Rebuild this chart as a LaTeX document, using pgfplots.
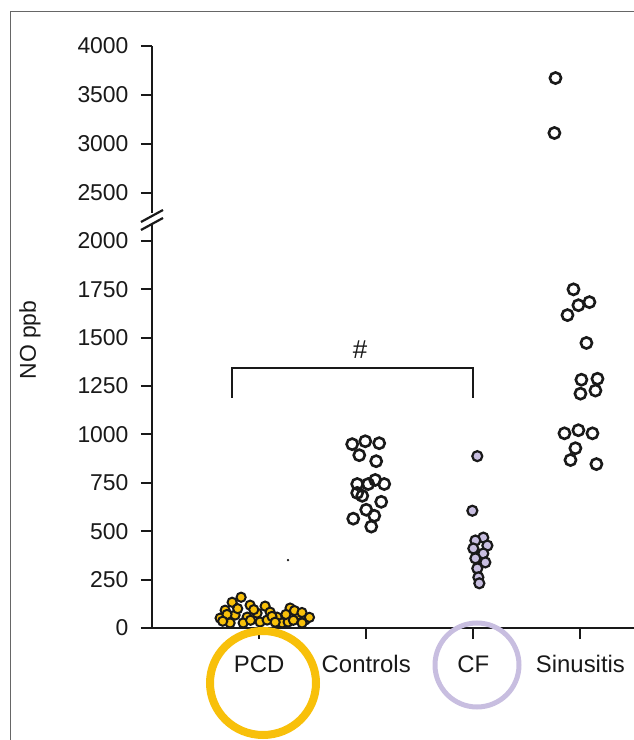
\documentclass[border=0pt]{standalone}
\usepackage{pgfplots}
\pgfplotsset{compat=1.18}
\usepackage{fontspec}
\setmainfont{Liberation Sans}
\definecolor{gold}{RGB}{248,192,10}
\definecolor{lav}{RGB}{200,190,224}
\definecolor{ink}{RGB}{25,25,25}

\pgfplotsset{
  nofig/.style={
    scale only axis, width=482bp, xmin=0, xmax=4.5,
    axis y line*=left, axis line style={-, line width=2.6bp, ink},
    tick align=outside, major tick length=11bp,
    tick style={line width=2bp, ink},
    yticklabel style={font=\fontsize{23}{23}\selectfont, text=ink, xshift=-9bp},
    /pgf/number format/assume math mode=true,
    /pgf/number format/1000 sep={},
    scaled y ticks=false, clip=false,
  },
  open/.style={only marks, mark=o, mark size=5.6bp, line width=2.6bp, ink},
}

\begin{document}
\begin{tikzpicture}
\useasboundingbox (0,0) rectangle (634bp,740bp);
\draw[gray!80!black, line width=1bp] (10bp,0) -- (10bp,728bp) -- (634bp,728bp);

% lower part 0 - 2000
\begin{axis}[nofig, at={(152bp,112bp)}, anchor=south west,
    height=402.5bp, ymin=0, ymax=2080,
    axis x line*=bottom,
    ytick={0,250,...,2000},
    xtick={1,2,3,4}, xticklabels={PCD,Controls,CF,Sinusitis},
    xticklabel style={font=\fontsize{24}{24}\selectfont, text=ink, yshift=-13bp},
  ]
  % PCD
  \addplot[only marks, mark=*, mark size=4.6bp, line width=2bp, draw=ink, fill=gold] coordinates {
    (0.748,133) (0.832,159) (0.683,92) (0.916,118) (1.056,113) (0.636,51)
    (0.776,67) (0.888,56) (0.981,77) (1.103,82) (1.168,56) (1.289,103)
    (1.355,67) (1.430,41) (0.729,26) (0.851,26) (1.009,31) (1.215,26)
    (1.271,31) (1.401,26) (1.075,41) (0.70,70) (0.80,100) (0.95,95)
    (1.12,60) (1.25,70) (1.33,90) (1.40,80) (1.47,55) (0.66,35)
    (0.92,40) (1.15,30) (1.32,40)
  };
  \addplot[only marks, mark=*, mark size=1bp, ink] coordinates {(1.27,351)};
  % Controls
  \addplot[open] coordinates {
    (1.869,950) (1.991,965) (2.121,955) (1.935,893) (2.093,862) (1.916,744)
    (2.019,744) (2.084,765) (2.168,744) (1.916,698) (1.963,683) (2.140,652)
    (2.000,611) (2.075,580) (1.879,565) (2.047,524)
  };
  % CF
  \addplot[only marks, mark=*, mark size=5bp, line width=2.2bp, draw=ink, fill=lav] coordinates {
    (3.037,888) (2.991,606) (3.093,467) (3.019,452) (3.131,426) (3.000,411)
    (3.093,385) (3.019,360) (3.112,339) (3.037,308) (3.047,262) (3.056,231)
  };
  % Sinusitis
  \addplot[open] coordinates {
    (3.935,1750) (3.981,1668) (4.084,1684) (3.879,1617) (4.056,1473)
    (4.009,1283) (4.159,1288) (4.000,1211) (4.140,1227) (3.851,1006)
    (3.981,1022) (4.112,1006) (3.953,929) (3.907,868) (4.149,847)
  };
  \draw[line width=2.2bp, ink] (axis cs:0.748,1189) -- (axis cs:0.748,1344)
    -- (axis cs:3.0,1344) -- (axis cs:3.0,1189);
  \node[font=\fontsize{26}{26}\selectfont, text=ink] at (axis cs:1.943,1437) {\#};
\end{axis}

% upper part 2300 - 4000
\begin{axis}[nofig, at={(152bp,527.4bp)}, anchor=south west,
    height=166.6bp, ymin=2300, ymax=4000,
    axis x line=none,
    ytick={2500,3000,3500,4000},
  ]
  \addplot[open] coordinates {(3.767,3673) (3.757,3112)};
\end{axis}

% axis break
\draw[line width=2.2bp, ink] (141bp,518bp) -- (163bp,530bp);
\draw[line width=2.2bp, ink] (141bp,510bp) -- (163bp,522bp);

\node[rotate=90, font=\fontsize{23}{23}\selectfont, text=ink] at (30bp,400bp) {NO ppb};

\draw[lav, line width=5bp] (477bp,75bp) circle (42bp);
\draw[gold, line width=8bp] (263bp,57bp) ellipse (53bp and 52bp);
\end{tikzpicture}
\end{document}
